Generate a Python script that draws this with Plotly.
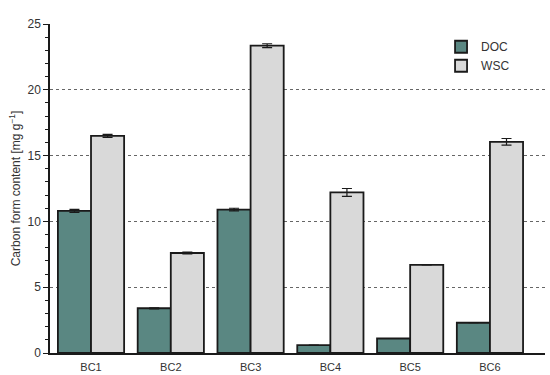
import plotly.graph_objects as go

categories = ["BC1", "BC2", "BC3", "BC4", "BC5", "BC6"]
doc = [10.8, 3.4, 10.9, 0.6, 1.1, 2.3]
doc_err = [0.12, 0.04, 0.1, 0.0, 0.0, 0.0]
wsc = [16.5, 7.6, 23.35, 12.2, 6.7, 16.05]
wsc_err = [0.12, 0.07, 0.15, 0.3, 0.0, 0.25]

font = "Liberation Sans, Arial, sans-serif"

fig = go.Figure()
fig.add_trace(go.Bar(
    x=categories, y=doc, name="DOC",
    marker=dict(color="#5a8782", line=dict(color="#1a1a1a", width=1.8)),
    error_y=dict(type="data", array=doc_err, color="#1a1a1a", thickness=1.2, width=5),
))
fig.add_trace(go.Bar(
    x=categories, y=wsc, name="WSC",
    marker=dict(color="#d9d9d9", line=dict(color="#1a1a1a", width=1.8)),
    error_y=dict(type="data", array=wsc_err, color="#1a1a1a", thickness=1.2, width=5),
))

fig.update_layout(
    width=550, height=375,
    margin=dict(l=50, r=5, t=24, b=22),
    paper_bgcolor="white", plot_bgcolor="white",
    barmode="group", bargap=0.17, bargroupgap=0,
    font=dict(family=font, size=11, color="#333333"),
    showlegend=True,
    legend=dict(x=0.79, y=0.975, xanchor="left", yanchor="top",
                font=dict(size=12, color="#333333"), bgcolor="rgba(0,0,0,0)",
                tracegroupgap=0, itemwidth=30),
)
fig.update_xaxes(
    range=[-0.514, 5.69], showline=True, linecolor="#1a1a1a", linewidth=1.5,
    ticks="", showgrid=False, tickfont=dict(size=11, color="#333333"),
    ticklabelstandoff=3, automargin=False,
)
fig.update_yaxes(
    range=[0, 25], dtick=5, showline=True, linecolor="#1a1a1a", linewidth=1.5,
    ticks="outside", ticklen=5, tickcolor="#1a1a1a", tickwidth=1.2,
    minor=dict(dtick=1, ticks="outside", ticklen=3, tickcolor="#1a1a1a", tickwidth=1, showgrid=False),
    showgrid=True, gridcolor="#666666", griddash="dot", gridwidth=1,
    zeroline=False, tickfont=dict(size=12, color="#333333"), automargin=False,
    title=dict(text="Carbon form content [mg g<sup>−1</sup>]", font=dict(size=12, color="#333333"), standoff=4),
)

fig.write_html("out.html", config={"displayModeBar": False},
               post_script="document.body.style.margin='0';document.body.style.overflow='hidden';")
